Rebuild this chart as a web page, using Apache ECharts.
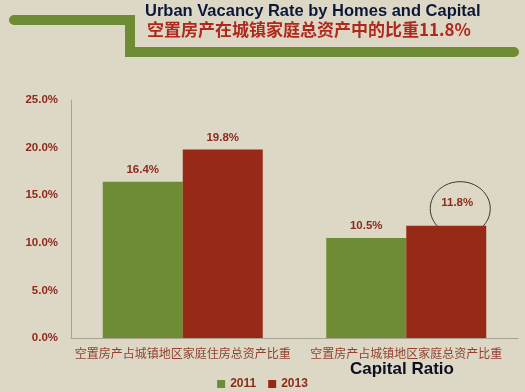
<!DOCTYPE html>
<html><head><meta charset="utf-8">
<script src="https://cdn.jsdelivr.net/npm/echarts@6/dist/echarts.min.js"></script>
<style>html,body{margin:0;padding:0;background:#ddd8c6;}#c{width:525px;height:392px;}</style>
</head><body><div id="c"></div>
<script>
const categories = ['空置房产占城镇地区家庭住房总资产比重', '空置房产占城镇地区家庭总资产比重'];
const series2011 = [16.4, 10.5];
const series2013 = [19.8, 11.8];
const yTicks = [0, 5, 10, 15, 20, 25];
const titleEn = 'Urban Vacancy Rate by Homes and Capital';
const titleZh = '空置房产在城镇家庭总资产中的比重11.8%';
const note = 'Capital Ratio';

const chart = echarts.init(document.getElementById('c'));
const labelStyle = {show: true, position: 'top', formatter: p => p.value.toFixed(1) + '%', color: '#8e2a1c', fontWeight: 'bold', fontSize: 11.5, fontFamily: 'Liberation Sans', distance: 6};
const data2013 = series2013.map((v, i) => i === 1 ? {value: v, label: {offset: [11, -11]}} : v);
const option = {
  backgroundColor: '#ddd8c6',
  animation: false,
  grid: {left: 71, right: 7, top: 100, bottom: 54},
  legend: {top: 373, left: 'center', itemWidth: 8, itemHeight: 8, itemGap: 12, icon: 'rect',
    textStyle: {color: '#8e2a1c', fontWeight: 'bold', fontSize: 12, fontFamily: 'Liberation Sans'},
    data: ['2011', '2013']},
  xAxis: {type: 'category', data: categories,
    axisLine: {lineStyle: {color: '#a8a292'}}, axisTick: {show: false},
    axisLabel: {color: '#93402f', fontSize: 12, margin: 9, fontFamily: 'Noto Sans CJK SC', interval: 0}},
  yAxis: {type: 'value', min: yTicks[0], max: yTicks[yTicks.length - 1], interval: 5,
    axisLine: {show: true, lineStyle: {color: '#a8a292'}}, axisTick: {show: false}, splitLine: {show: false},
    axisLabel: {formatter: v => v.toFixed(1) + '%', color: '#8e2a1c', fontWeight: 'bold', fontSize: 11.5, margin: 13, fontFamily: 'Liberation Sans'}},
  series: [
    {name: '2011', type: 'bar', data: series2011, barWidth: 80, barGap: '0%', itemStyle: {color: '#6e8c34'}, label: labelStyle},
    {name: '2013', type: 'bar', data: data2013, barWidth: 80, itemStyle: {color: '#962a17'}, label: labelStyle}
  ],
  graphic: [
    {type: 'polyline', shape: {points: [[14, 20], [130, 20], [130, 52], [514, 52]]},
      style: {stroke: '#6e8c34', lineWidth: 10, fill: null, lineCap: 'round', lineJoin: 'miter'}},
    {type: 'text', left: 145, top: 3, style: {text: titleEn, fill: '#0c1838', font: 'bold 16.5px "Liberation Sans"'}},
    {type: 'text', left: 147, top: 21, style: {text: titleZh, fill: '#b0281c', font: 'bold 17px "Noto Sans CJK SC"'}},
    {type: 'text', left: 350, top: 361, style: {text: note, fill: '#0a1020', font: 'bold 17px "Liberation Sans"'}}
  ]
};
chart.setOption(option);
const pt = chart.convertToPixel({seriesIndex: 1}, [1, series2013[1]]);
chart.setOption({graphic: option.graphic.concat([
  {type: 'ellipse', shape: {cx: pt[0] + 54, cy: pt[1] - 17, rx: 30, ry: 27},
    style: {stroke: '#3a3530', lineWidth: 1, fill: null}}
])});
</script></body></html>
